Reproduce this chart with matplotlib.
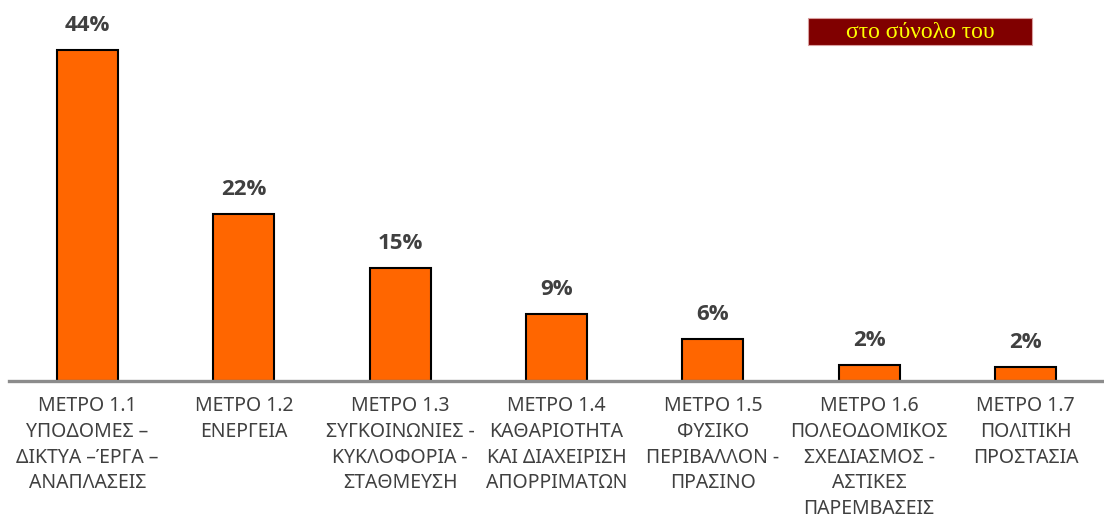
import matplotlib
matplotlib.use("Agg")
import matplotlib.pyplot as plt
from matplotlib.patches import Rectangle

categories = [
    "ΜΕΤΡΟ 1.1\nΥΠΟΔΟΜΕΣ –\nΔΙΚΤΥΑ –ΈΡΓΑ –\nΑΝΑΠΛΑΣΕΙΣ",
    "ΜΕΤΡΟ 1.2\nΕΝΕΡΓΕΙΑ",
    "ΜΕΤΡΟ 1.3\nΣΥΓΚΟΙΝΩΝΙΕΣ -\nΚΥΚΛΟΦΟΡΙΑ -\nΣΤΑΘΜΕΥΣΗ",
    "ΜΕΤΡΟ 1.4\nΚΑΘΑΡΙΟΤΗΤΑ\nΚΑΙ ΔΙΑΧΕΙΡΙΣΗ\nΑΠΟΡΡΙΜΑΤΩΝ",
    "ΜΕΤΡΟ 1.5\nΦΥΣΙΚΟ\nΠΕΡΙΒΑΛΛΟΝ -\nΠΡΑΣΙΝΟ",
    "ΜΕΤΡΟ 1.6\nΠΟΛΕΟΔΟΜΙΚΟΣ\nΣΧΕΔΙΑΣΜΟΣ -\nΑΣΤΙΚΕΣ\nΠΑΡΕΜΒΑΣΕΙΣ",
    "ΜΕΤΡΟ 1.7\nΠΟΛΙΤΙΚΗ\nΠΡΟΣΤΑΣΙΑ",
]
values = [44.0, 22.2, 15.0, 8.9, 5.6, 2.1, 1.9]
value_labels = ["44%", "22%", "15%", "9%", "6%", "2%", "2%"]
legend_text = "στο σύνολο του"

W, H = 1104, 525
fig = plt.figure(figsize=(W / 100, H / 100), dpi=100)
ax = fig.add_axes([9.35 / W, (H - 381) / H, 1094.3 / W, 381 / H])

x = list(range(len(categories)))
bars = ax.bar(x, values, width=0.39, color="#FF6600", edgecolor="black",
              linewidth=1.5, zorder=2)
ax.set_xlim(-0.5, len(categories) - 0.5)
ax.set_ylim(0, 381 / 7.52)

for b, lab in zip(bars, value_labels):
    ax.annotate(lab, (b.get_x() + b.get_width() / 2, b.get_height()),
                xytext=(0, 10), textcoords="offset points",
                ha="center", va="bottom", fontsize=16, fontweight="bold",
                color="#404040", family=["Open Sans", "DejaVu Sans"])

ax.set_xticks(x)
ax.set_xticklabels(categories, fontsize=14, color="#404040",
                   family=["Noto Sans", "DejaVu Sans"], linespacing=1.38,
                   va="top")
ax.tick_params(axis="x", length=0, pad=11)
ax.set_yticks([])
for s in ["top", "right", "left"]:
    ax.spines[s].set_visible(False)
ax.spines["bottom"].set_color("#8c8c8c")
ax.spines["bottom"].set_linewidth(2.4)
ax.spines["bottom"].set_zorder(3)

# legend-like box
fig.patches.append(Rectangle((808 / W, 1 - 45 / H), 224 / W, 27 / H,
                             transform=fig.transFigure, facecolor="#800000",
                             edgecolor="#d9a0a0", linewidth=0.8))
fig.text(920 / W, 1 - 32 / H, legend_text, ha="center", va="center",
         fontsize=17, color="#FFFF00",
         family=["Liberation Serif", "DejaVu Serif"])

fig.savefig("out.png", dpi=100)
